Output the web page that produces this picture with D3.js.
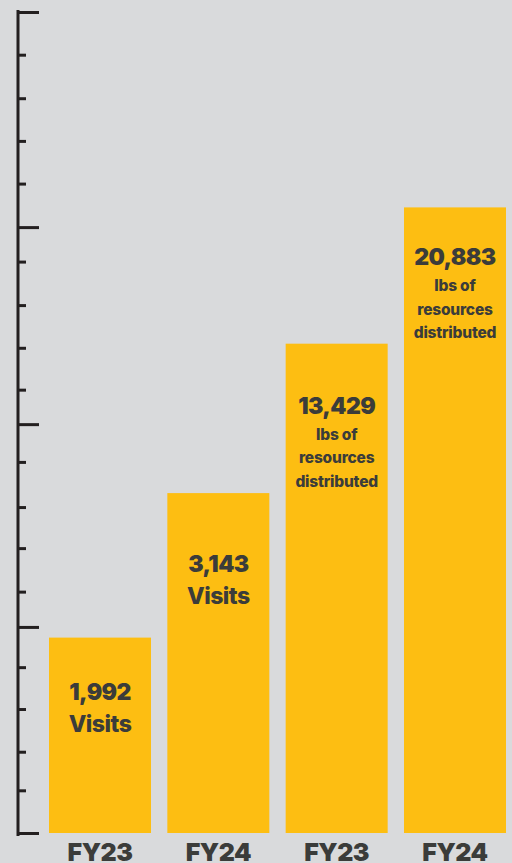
<!DOCTYPE html>
<html>
<head>
<meta charset="utf-8">
<script src="https://cdn.jsdelivr.net/npm/d3@7"></script>
<style>
  html, body { margin: 0; padding: 0; background: #d9dadc; overflow: hidden; }
  svg { display: block; }
</style>
</head>
<body>
<script>
// categories and values
let years = ["FY23", "FY24", "FY23", "FY24"];
let values = ["1,992", "3,143", "13,429", "20,883"];
let units = [["Visits"], ["Visits"], ["lbs of", "resources", "distributed"], ["lbs of", "resources", "distributed"]];
// bar heights on the (unlabelled) left axis, 0..100
let barLevels = [23.8, 41.4, 59.6, 76.2];
// tick marks (hand placed, not even)
let tickValues = [0, 5.2, 9.9, 15.1, 20.2, 25.1, 29.4, 34.7, 39.7, 45.2, 49.8,
    54.0, 59.1, 64.3, 69.6, 73.8, 79.1, 84.3, 89.5, 94.8, 100];
let majorTicks = [0, 25.1, 49.8, 73.8, 100];

let width = 512, height = 863;
// label offset below each bar top (the original is laid out by hand)
let labelOffsets = [62, 79, 70, 58];

let svg = d3.select("body").append("svg")
    .attr("width", width)
    .attr("height", height);

let y = d3.scaleLinear().domain([0, 100]).range([833, 12]);
let x = d3.scaleBand().domain(d3.range(years.length)).range([49, 506]).paddingInner(0.138);

let ink = "#231f20";
let textColor = "#3b3c3a";
let font = "Inter, Lato, 'Noto Sans', sans-serif";

// left axis
let axis = svg.append("g")
    .attr("transform", "translate(18,0)")
    .call(d3.axisRight(y).tickValues(tickValues).tickSize(6).tickSizeOuter(0).tickFormat(""));
axis.select(".domain").remove();
axis.selectAll(".tick line")
    .attr("stroke", ink)
    .attr("stroke-width", 3)
    .attr("x1", 0)
    .attr("x2", d => majorTicks.includes(d) ? 21 : 8);
axis.append("line")
    .attr("x1", 0).attr("x2", 0)
    .attr("y1", 10).attr("y2", 836)
    .attr("stroke", ink)
    .attr("stroke-width", 3);

// bars
svg.selectAll("rect.bar")
    .data(barLevels)
    .enter().append("rect")
    .attr("class", "bar")
    .attr("x", (d, i) => x(i))
    .attr("y", d => y(d))
    .attr("width", x.bandwidth())
    .attr("height", d => y(0) - y(d))
    .attr("fill", "#fdbe12");

// labels inside bars
barLevels.forEach((d, i) => {
    let cx = x(i) + x.bandwidth() / 2;
    let top = y(d) + labelOffsets[i];
    svg.append("text")
        .attr("x", cx)
        .attr("y", top)
        .attr("text-anchor", "middle")
        .style("font-family", font)
        .style("font-weight", 900)
        .style("font-size", "23px")
        .style("letter-spacing", "-0.6px")
        .style("fill", textColor)
        .text(values[i]);
    let small = units[i].length > 1;
    units[i].forEach((u, j) => {
        svg.append("text")
            .attr("x", cx)
            .attr("y", small ? top + 26 + j * 23.5 : top + 32)
            .attr("text-anchor", "middle")
            .style("font-family", font)
            .style("font-weight", 800)
            .style("font-size", small ? "15.5px" : "23px")
            .style("letter-spacing", small ? "-0.2px" : "-0.5px")
            .style("fill", textColor)
            .text(u);
    });
});

// category labels
svg.selectAll("text.cat")
    .data(years)
    .enter().append("text")
    .attr("class", "cat")
    .attr("x", (d, i) => x(i) + x.bandwidth() / 2)
    .attr("y", 861)
    .attr("text-anchor", "middle")
    .style("font-family", font)
    .style("font-weight", 900)
    .style("font-size", "25px")
    .style("letter-spacing", "-0.5px")
    .style("fill", textColor)
    .text(d => d);
</script>
</body>
</html>
